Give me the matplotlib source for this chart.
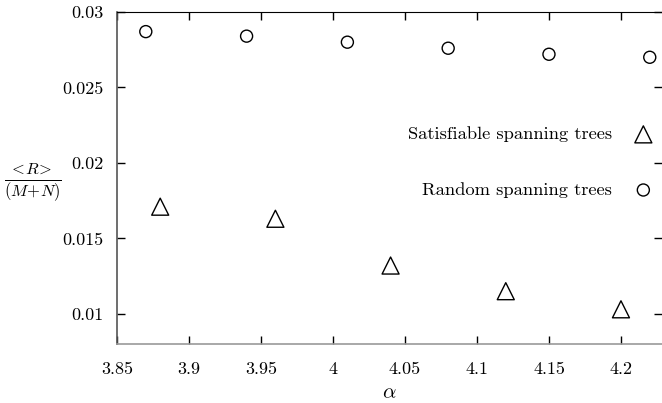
import matplotlib
matplotlib.use("Agg")
import matplotlib.pyplot as plt

# --- datos ---
alpha_sat = [3.88, 3.96, 4.04, 4.12, 4.20]
r_sat = [0.0171, 0.0163, 0.0132, 0.0115, 0.0103]

alpha_rand = [3.87, 3.94, 4.01, 4.08, 4.15, 4.22]
r_rand = [0.0287, 0.0284, 0.0280, 0.0276, 0.0272, 0.0270]

xticks = [3.85, 3.9, 3.95, 4.0, 4.05, 4.1, 4.15, 4.2]
xticklabels = ["3.85", "3.9", "3.95", "4", "4.05", "4.1", "4.15", "4.2"]
yticks = [0.01, 0.015, 0.02, 0.025, 0.03]
yticklabels = ["0.01", "0.015", "0.02", "0.025", "0.03"]

plt.rcParams["font.family"] = ["cmr10", "DejaVu Serif"]
plt.rcParams["mathtext.fontset"] = "cm"
plt.rcParams["axes.formatter.use_mathtext"] = True

fig = plt.figure(figsize=(6.62, 4.03), dpi=100)
ax = fig.add_axes([117 / 662, 1 - 344 / 403, 1 - 117 / 662, (344 - 12) / 403])

ax.scatter(alpha_sat, r_sat, marker="^", s=150, facecolors="none",
           edgecolors="black", linewidths=1.0, label="Satisfiable spanning trees")
ax.scatter(alpha_rand, r_rand, marker="o", s=75, facecolors="none",
           edgecolors="black", linewidths=1.0, label="Random spanning trees")

ax.set_xlim(3.85, 4.2285)
ax.set_ylim(0.008, 0.03)
ax.set_xticks(xticks)
ax.set_xticklabels(xticklabels)
ax.set_yticks(yticks)
ax.set_yticklabels(yticklabels)
ax.tick_params(direction="in", length=6, width=1, top=True, right=True,
               labelsize=13, pad=10)
ax.tick_params(axis="x", pad=13)

ax.spines["right"].set_visible(False)
ax.spines["top"].set_linewidth(0.8)
ax.spines["left"].set_color("#555555")
ax.spines["bottom"].set_color("#999999")
ax.spines["left"].set_linewidth(1.2)
ax.spines["bottom"].set_linewidth(1.2)

ax.set_xlabel(r"$\alpha$", fontsize=15, labelpad=5)
ax.set_ylabel(r"$\frac{{<}\!R\!{>}}{(M\!+\!N)}$", fontsize=17, rotation=0,
              va="center", ha="center")
ax.yaxis.set_label_coords(-0.155, 0.485)

ax.legend(loc="center right", bbox_to_anchor=(1.02, 0.548), frameon=False,
          markerfirst=False, fontsize=13.3, handletextpad=0.7,
          labelspacing=2.15, handlelength=2.0, borderaxespad=0.2,
          scatterpoints=1)

plt.savefig("out.png", dpi=100)
plt.close()
